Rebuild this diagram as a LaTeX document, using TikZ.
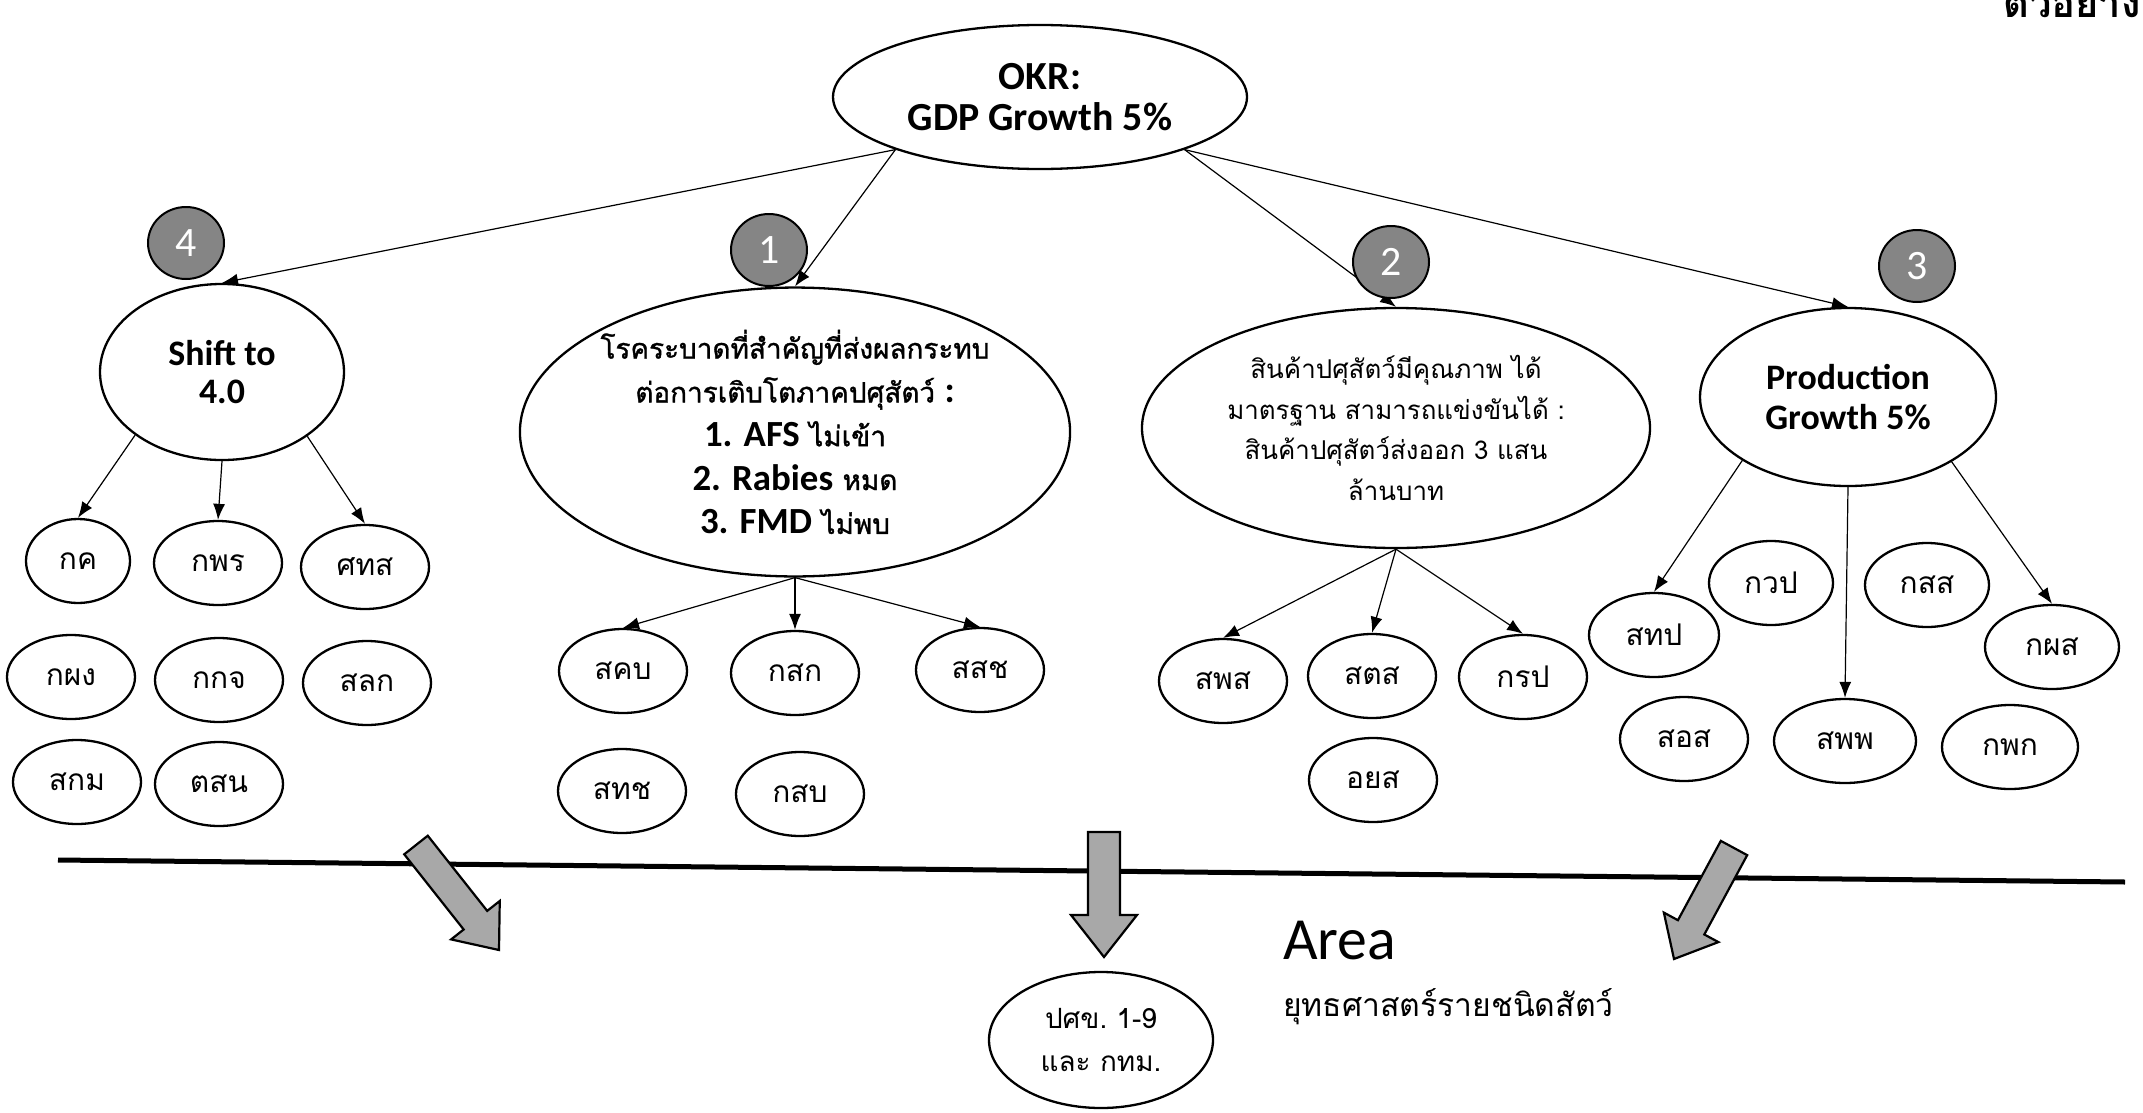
\documentclass[tikz,border=0pt]{standalone}
\usepackage{fontspec}
\setmainfont{Carlito}
\newfontfamily\thaifnt[Script=Thai]{Loma}
\newfontfamily\thaimed[Script=Thai,FakeBold=1.2]{Loma}
\usetikzlibrary{shapes.geometric,arrows.meta,calc}
\definecolor{badgegray}{HTML}{858585}
\definecolor{blkgray}{HTML}{A8A8A8}
\newcommand{\thsm}{\thaifnt\fontsize{30}{34}\selectfont}
\newcommand{\enb}{\normalfont\bfseries\fontsize{37}{44}\selectfont}
\newcommand{\blkarrow}[5]{%
  \coordinate (hb) at ($(#2)!#5!(#1)$);
  \draw[blk] ($(#1)!#3!90:(#2)$) -- ($(hb)!#3!90:(#2)$) -- ($(hb)!#4!90:(#2)$) -- (#2)
     -- ($(hb)!#4!-90:(#2)$) -- ($(hb)!#3!-90:(#2)$) -- ($(#1)!#3!-90:(#2)$) -- cycle;}
\begin{document}
\begin{tikzpicture}[x=1bp,y=-1bp,
  oval/.style={ellipse, draw, line width=2.3bp, inner sep=0pt, align=center},
  sm/.style={oval, minimum width=128bp, minimum height=84bp, font=\thsm},
  badge/.style={ellipse, draw, line width=2bp, fill=badgegray, minimum width=76bp, minimum height=72bp, inner sep=0pt, text=white, font=\fontsize{42}{42}\selectfont},
  conn/.style={-{Latex[length=16bp,width=12bp]}, line width=1.2bp},
  blk/.style={draw, line width=2.2bp, fill=blkgray, line join=miter}]
\useasboundingbox (0,0) rectangle (2143,1112);
\fill[white] (0,0) rectangle (2143,1112);

% cut-off heading at top right
\node[anchor=base west, inner sep=0pt, font=\thaifnt\bfseries\fontsize{40}{40}\selectfont] (ex) at (2003,17) {ตัวอย่าง};

% main nodes
\node[oval, minimum width=414bp, minimum height=144bp, font=\bfseries\fontsize{40}{41}\selectfont] (okr) at (1040,97) {OKR:\\GDP Growth 5\%};
\node[oval, minimum width=244bp, minimum height=176bp, font=\bfseries\fontsize{36}{39}\selectfont] (shift) at (222,372) {Shift to\\4.0};
\node[oval, minimum width=548bp, minimum height=276bp, font=\thaimed\fontsize{28}{44}\selectfont] (dis) at (795,432)
  {โรคระบาดที่สำคัญที่ส่งผลกระทบ\\ต่อการเติบโตภาคปศุสัตว์ {\enb :}\\{\enb 1. AFS} ไม่เข้า\\{\enb 2. Rabies} หมด\\{\enb 3. FMD} ไม่พบ};
\node[oval, minimum width=508bp, minimum height=240bp, font=\thaifnt\fontsize{26}{41}\selectfont] (qual) at (1396,428)
  {สินค้าปศุสัตว์มีคุณภาพ ได้\\มาตรฐาน สามารถแข่งขันได้ :\\สินค้าปศุสัตว์ส่งออก 3 แสน\\ล้านบาท};
\node[oval, minimum width=296bp, minimum height=178bp, font=\bfseries\fontsize{36}{40}\selectfont] (grow) at (1848,397) {Production\\Growth 5\%};

% children of Shift to 4.0
\node[sm, minimum width=104bp] (a1) at (78,561) {กค};
\node[sm] (a2) at (218,563) {กพร};
\node[sm] (a3) at (365,567) {ศทส};
\node[sm] (a4) at (71,677) {กผง};
\node[sm] (a5) at (219,680) {กกจ};
\node[sm] (a6) at (367,683) {สลก};
\node[sm] (a7) at (77,782) {สกม};
\node[sm] (a8) at (219,784) {ตสน};

% children of node 1
\node[sm] (b1) at (623,671) {สคบ};
\node[sm] (b2) at (795,673) {กสก};
\node[sm] (b3) at (980,670) {สสช};
\node[sm] (b4) at (622,791) {สทช};
\node[sm] (b5) at (800,794) {กสบ};

% children of node 2
\node[sm] (c1) at (1223,681) {สพส};
\node[sm] (c2) at (1372,676) {สตส};
\node[sm] (c3) at (1523,677) {กรป};
\node[sm] (c4) at (1373,780) {อยส};

% children of node 3
\node[sm, minimum width=130bp] (d1) at (1654,635) {สทป};
\node[sm, minimum width=124bp] (d2) at (1771,583) {กวป};
\node[sm, minimum width=124bp] (d3) at (1927,585) {กสส};
\node[sm, minimum width=134bp] (d4) at (2052,647) {กผส};
\node[sm] (d5) at (1684,739) {สอส};
\node[sm, minimum width=142bp] (d6) at (1845,741) {สพพ};
\node[sm, minimum width=136bp] (d7) at (2010,747) {กพก};

% area node and labels
\node[oval, minimum width=224bp, minimum height=136bp, font=\thaifnt\fontsize{28}{43}\selectfont] (reg) at (1101,1040) {ปศข.~1-9\\และ กทม.};
\node[anchor=base west, inner sep=0pt, font=\fontsize{60}{60}\selectfont] (area) at (1283,959) {Area};
\node[anchor=base west, inner sep=0pt, font=\thaifnt\fontsize{32}{32}\selectfont] (strat) at (1283,1016) {ยุทธศาสตร์รายชนิดสัตว์};

% connectors
\draw[conn] (okr.200) -- (shift.north);
\draw[conn] (okr.200) -- (dis.north);
\draw[conn] (okr.-20) -- (qual.north);
\draw[conn] (okr.-20) -- (grow.north);

\draw[conn] (shift.216) -- (a1.north);
\draw[conn] (shift.south) -- (a2.north);
\draw[conn] (shift.-37) -- (a3.north);

\draw[conn] (dis.south) -- (b1.north);
\draw[conn] (dis.south) -- (b2.north);
\draw[conn] (dis.south) -- (b3.north);

\draw[conn] (qual.south) -- (c1.north);
\draw[conn] (qual.south) -- (c2.north);
\draw[conn] (qual.south) -- (c3.north);

\draw[conn] (grow.211) -- (d1.north);
\draw[conn] (grow.south) -- (d6.north);
\draw[conn] (grow.-32) -- (d4.north);

% badges
\node[badge] (n4) at (186,243) {4};
\node[badge] (n1) at (769,250) {1};
\node[badge] (n2) at (1391,262) {2};
\node[badge] (n3) at (1917,266) {3};

% divider line
\coordinate (lineL) at (58,860);
\coordinate (lineR) at (2125,882);
\draw[line width=5bp] (lineL) -- (lineR);

% block arrows
\coordinate (lt) at (416,845); \coordinate (lp) at (499,950);
\coordinate (mt) at (1104,832); \coordinate (mp) at (1104,957);
\coordinate (rt) at (1734,848); \coordinate (rp) at (1674,959);
\blkarrow{lt}{lp}{15bp}{31bp}{38bp}
\blkarrow{mt}{mp}{16bp}{33bp}{42bp}
\blkarrow{rt}{rp}{15bp}{31bp}{36bp}
\end{tikzpicture}
\end{document}
